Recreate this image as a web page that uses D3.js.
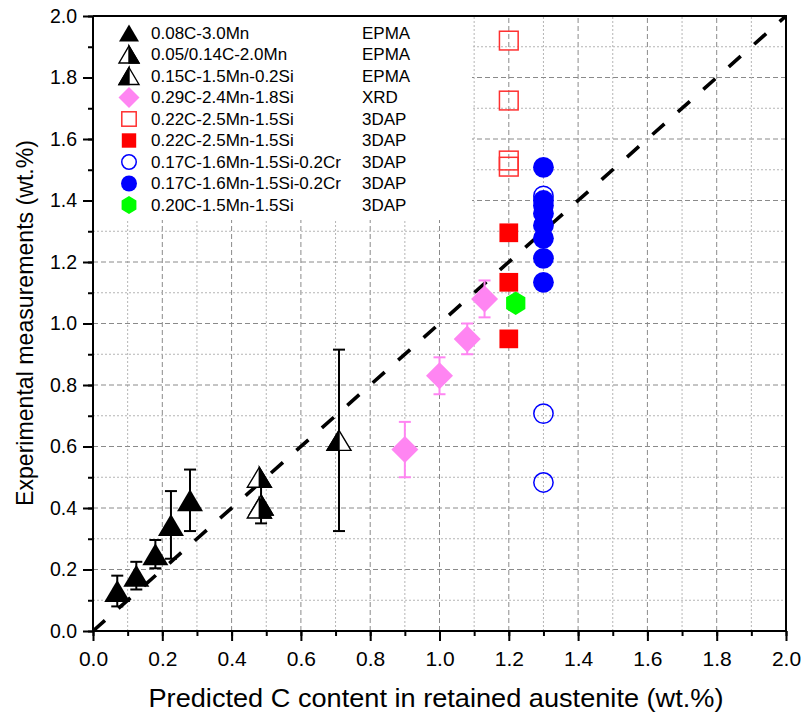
<!DOCTYPE html>
<html><head><meta charset="utf-8">
<script src="https://cdn.jsdelivr.net/npm/d3@7"></script>
<style>body{margin:0;background:#fff}svg{display:block;font-family:Arial,"Liberation Sans",sans-serif}</style>
</head><body><svg id="c" width="803" height="715"></svg>
<script>
// ---- data ----
const xTicks = [0,0.2,0.4,0.6,0.8,1.0,1.2,1.4,1.6,1.8,2.0];
const yTicks = [0,0.2,0.4,0.6,0.8,1.0,1.2,1.4,1.6,1.8,2.0];
// series: [x, y, err]
const s1 = [[0.07,0.13,0.05],[0.125,0.18,0.045],[0.18,0.25,0.046],[0.225,0.345,0.11],[0.28,0.425,0.1]];
const s2 = [[0.48,0.50,0],[0.485,0.41,0.06],[0.48,0.40,0]];
const s3 = [[0.71,0.62,0.295]];
const s4 = [[0.90,0.59,0.09],[1.00,0.83,0.06],[1.08,0.95,0.05],[1.13,1.08,0.06]];
const s5 = [[1.2,1.92],[1.2,1.725],[1.2,1.53],[1.2,1.51]];
const s6 = [[1.2,1.295],[1.2,1.134],[1.2,0.95]];
const s7 = [[1.3,1.415],[1.3,0.707],[1.3,0.483]];
const s8 = [[1.3,1.508],[1.3,1.40],[1.3,1.384],[1.3,1.358],[1.3,1.319],[1.3,1.277],[1.3,1.212],[1.3,1.134]];
const s9 = [[1.22,1.066]];
const legendLabels = ["0.08C-3.0Mn","0.05/0.14C-2.0Mn","0.15C-1.5Mn-0.2Si","0.29C-2.4Mn-1.8Si","0.22C-2.5Mn-1.5Si","0.22C-2.5Mn-1.5Si","0.17C-1.6Mn-1.5Si-0.2Cr","0.17C-1.6Mn-1.5Si-0.2Cr","0.20C-1.5Mn-1.5Si"];
const legendMethods = ["EPMA","EPMA","EPMA","XRD","3DAP","3DAP","3DAP","3DAP","3DAP"];
const legendKinds = ["tri","triR","triL","dia","sqO","sqF","ciO","ciF","hex"];
const xTitle = "Predicted C content in retained austenite (wt.%)";
const yTitle = "Experimental measurements (wt.%)";

const PINK="#ff85f2", RED="#ff0000", BLUE="#0000ff", GREEN="#00ff00";
const svg = d3.select("#c");
const x = d3.scaleLinear().domain([0,2]).range([93,786]);
const y = d3.scaleLinear().domain([0,2]).range([631,16]);
const minor = d3.range(0,2.0001,0.1).map(v=>+v.toFixed(2));

// grid
const g = svg.append("g");
minor.forEach(v=>{
  const major = Math.abs(Math.round(v*10)%2)===0;
  if (v>0 && v<2){
    g.append("line").attr("x1",x(v)).attr("x2",x(v)).attr("y1",y(0)).attr("y2",y(2))
     .attr("stroke",major?"#8a8a8a":"#b5b5b5").attr("stroke-width",1)
     .attr("stroke-dasharray",major?"5,3":"2,2");
    g.append("line").attr("y1",y(v)).attr("y2",y(v)).attr("x1",x(0)).attr("x2",x(2))
     .attr("stroke",major?"#8a8a8a":"#b5b5b5").attr("stroke-width",1)
     .attr("stroke-dasharray",major?"5,3":"2,2");
  }
});

// legend background
svg.append("rect").attr("x",94).attr("y",17).attr("width",378).attr("height",203).attr("fill","#fff");

// diagonal
svg.append("line").attr("x1",x(0)).attr("y1",y(0)).attr("x2",x(2)).attr("y2",y(2))
  .attr("stroke","#000").attr("stroke-width",3.6).attr("stroke-dasharray","16,18");

// axes
const xAxis = d3.axisBottom(x).tickValues(xTicks).tickFormat(d3.format(".1f")).tickSize(10).tickPadding(10);
const xAxisMinor = d3.axisBottom(x).tickValues(minor).tickFormat("").tickSize(5);
const yAxis = d3.axisLeft(y).tickValues(yTicks).tickFormat(d3.format(".1f")).tickSize(10).tickPadding(6);
const yAxisMinor = d3.axisLeft(y).tickValues(minor).tickFormat("").tickSize(5);
function styleAxis(fs){
  return sel=>{
    sel.select(".domain").remove();
    sel.selectAll("line").attr("stroke","#000").attr("stroke-width",2);
    sel.selectAll("text").attr("font-size",fs).attr("fill","#000").attr("font-family","Arial, Liberation Sans");
  };
}
svg.append("g").attr("transform",`translate(0,${y(0)})`).call(xAxisMinor).call(styleAxis(21));
svg.append("g").attr("transform",`translate(0,${y(0)})`).call(xAxis).call(styleAxis(21));
svg.append("g").attr("transform",`translate(${x(0)},0)`).call(yAxisMinor).call(styleAxis(19.5));
svg.append("g").attr("transform",`translate(${x(0)},0)`).call(yAxis).call(styleAxis(19.5));
// frame
svg.append("path").attr("d",`M${x(0)},${y(2)}H${x(2)}V${y(0)}`).attr("fill","none").attr("stroke","#000").attr("stroke-width",2);
svg.append("path").attr("d",`M${x(0)},${y(2)}V${y(0)}H${x(2)}`).attr("fill","none").attr("stroke","#000").attr("stroke-width",2);

// titles
svg.append("text").attr("x",436).attr("y",707).attr("text-anchor","middle").attr("font-size",25)
  .attr("textLength",575).attr("lengthAdjust","spacingAndGlyphs").text(xTitle);
svg.append("text").attr("transform","translate(33,323) rotate(-90)").attr("text-anchor","middle").attr("font-size",24)
  .attr("textLength",366).attr("lengthAdjust","spacingAndGlyphs").text(yTitle);

// marker drawing
function marker(sel, kind, cx, cy, s, hh){
  const h=s/2;
  if(kind.startsWith("tri")){
    const w=s/2, ht=(hh||s*0.85)/2;
    const pts=[[cx,cy-ht],[cx+w,cy+ht],[cx-w,cy+ht]];
    if(kind==="tri"){
      sel.append("polygon").attr("points",pts.join(" ")).attr("fill","#000");
    } else {
      sel.append("polygon").attr("points",pts.join(" ")).attr("fill","#fff").attr("stroke","#000").attr("stroke-width",1.4);
      const half = kind==="triR" ? [[cx,cy-ht],[cx+w,cy+ht],[cx,cy+ht]] : [[cx,cy-ht],[cx-w,cy+ht],[cx,cy+ht]];
      sel.append("polygon").attr("points",half.join(" ")).attr("fill","#000").attr("stroke","#000").attr("stroke-width",1.4);
    }
  } else if(kind==="dia"){
    sel.append("polygon").attr("points",[[cx,cy-h],[cx+h,cy],[cx,cy+h],[cx-h,cy]].join(" ")).attr("fill",PINK);
  } else if(kind==="sqO"||kind==="sqF"){
    const q=s*0.36;
    sel.append("rect").attr("x",cx-q).attr("y",cy-q).attr("width",2*q).attr("height",2*q)
      .attr("fill",kind==="sqF"?RED:"#fff").attr("fill-opacity",kind==="sqF"?1:0)
      .attr("stroke",kind==="sqF"?"none":"#ff3030").attr("stroke-width",1.5);
  } else if(kind==="ciO"||kind==="ciF"){
    const r=s*0.4;
    sel.append("circle").attr("cx",cx).attr("cy",cy).attr("r",kind==="ciF"?r:r-0.75)
      .attr("fill",kind==="ciF"?BLUE:"none").attr("stroke",kind==="ciF"?"none":BLUE).attr("stroke-width",1.5);
  } else if(kind==="hex"){
    const rr=s*0.45;
    const pts=d3.range(6).map(i=>{const a=Math.PI/3*i - Math.PI/2; return [cx+rr*Math.cos(a)*0.95, cy+rr*Math.sin(a)];});
    sel.append("polygon").attr("points",pts.join(" ")).attr("fill",GREEN);
  }
}
function errbars(sel, data, color){
  data.filter(d=>d[2]>0).forEach(d=>{
    const X=x(d[0]), y1=y(d[1]+d[2]), y2=y(d[1]-d[2]);
    sel.append("line").attr("x1",X).attr("x2",X).attr("y1",y1).attr("y2",y2).attr("stroke",color).attr("stroke-width",2);
    [y1,y2].forEach(Y=>sel.append("line").attr("x1",X-6).attr("x2",X+6).attr("y1",Y).attr("y2",Y).attr("stroke",color).attr("stroke-width",2));
  });
}
const pg = svg.append("g");
function series(data, kind, s, ecolor, hh){
  if(ecolor) errbars(pg, data, ecolor);
  data.forEach(d=>marker(pg, kind, x(d[0]), y(d[1]), s, hh));
}
series(s1,"tri",26,"#000",22);
series(s2,"triR",24,"#000",20);
series(s3,"triL",24,"#000",20);
series(s4,"dia",27,PINK);
series(s5,"sqO",26);
series(s6,"sqF",26);
series(s7,"ciO",26);
series(s8,"ciF",26);
series(s9,"hex",26);

// legend
const lg = svg.append("g");
legendLabels.forEach((lab,i)=>{
  const cy = 33 + i*21.5;
  const kind = legendKinds[i];
  const sz = kind.startsWith("tri") ? 20 : kind==="dia" ? 21 : 20;
  marker(lg, kind, 129, cy, sz, 17);
  lg.append("text").attr("x",151).attr("y",cy).attr("dy","0.35em").attr("font-size",17).text(lab);
  lg.append("text").attr("x",362).attr("y",cy).attr("dy","0.35em").attr("font-size",17).text(legendMethods[i]);
});
</script></body></html>
